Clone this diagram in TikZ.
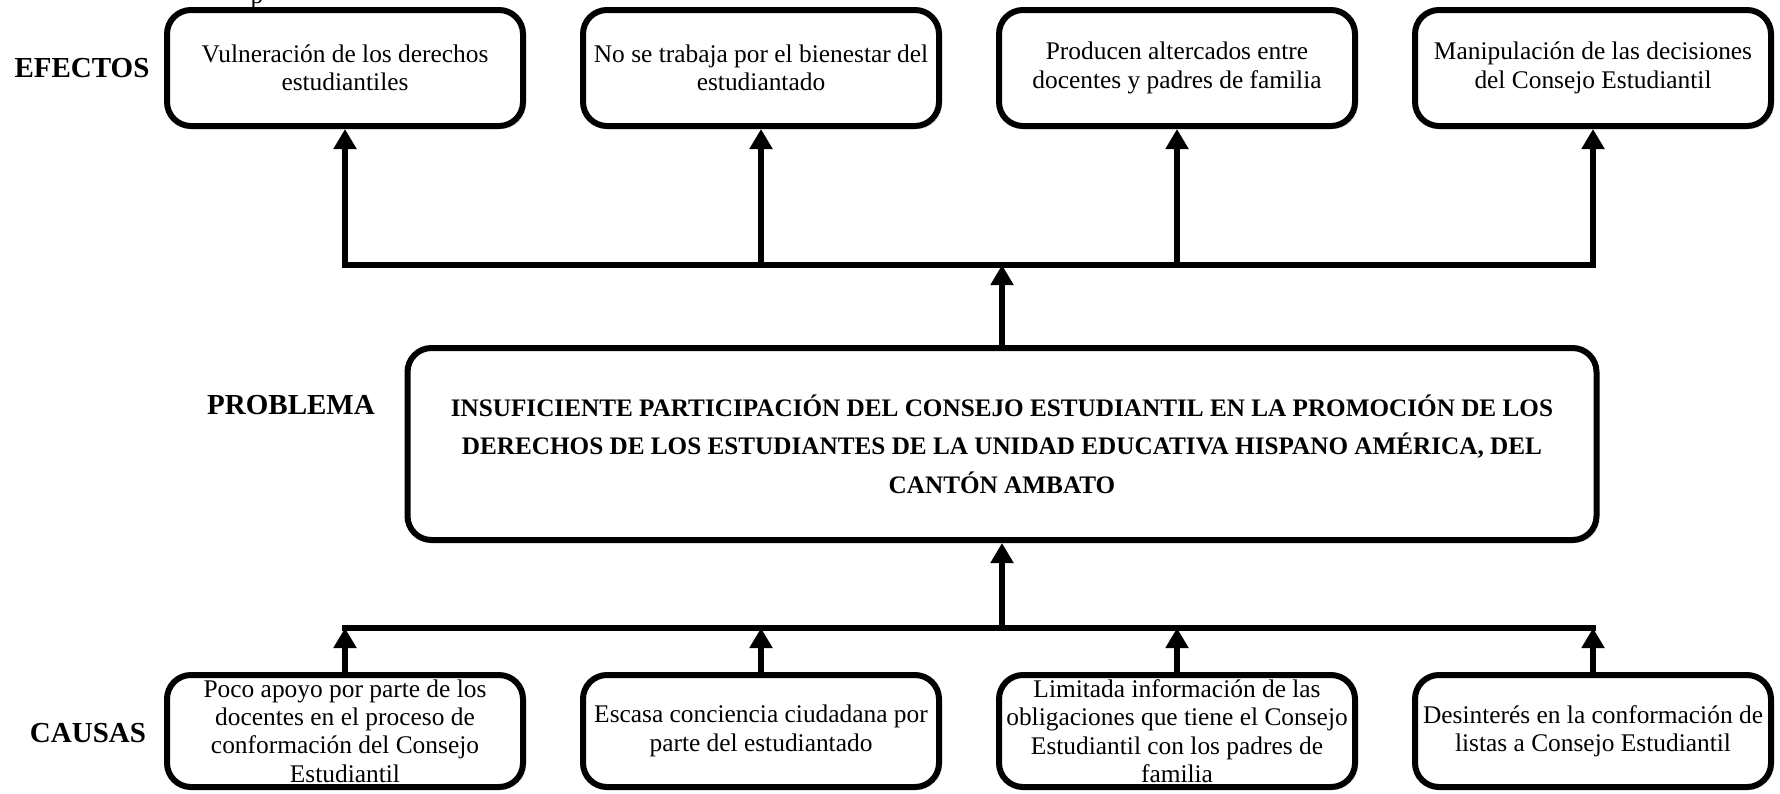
\documentclass[tikz,border=0pt]{standalone}
\usepackage{fontspec}
\setmainfont{Liberation Serif}
\usepackage{tikz}
\usetikzlibrary{arrows.meta,shadows}

\begin{document}
\begin{tikzpicture}[x=0.5pt,y=-0.5pt,
    caja/.style={draw, line width=3pt, rounded corners=12pt, fill=white,
        minimum width=178pt, inner xsep=3pt, inner ysep=0pt, align=center,
        font=\fontsize{12.7}{14.2}\selectfont,
        drop shadow={shadow xshift=1.5pt, shadow yshift=-1.5pt, opacity=0.2}},
    flecha/.style={line width=3pt, -{Triangle[length=10pt,width=11pt]}},
    barra/.style={line width=3pt, line cap=rect},
    etiqueta/.style={font=\fontsize{14.5}{17}\selectfont\bfseries}]

        \useasboundingbox (0,0) rectangle (1780,793);

        \node[anchor=base, font=\fontsize{12.7}{14.2}\selectfont] (frag) at (257,3) {p};

        % efectos
        \node[etiqueta] (efectos) at (82,68) {EFECTOS};
        \node[caja, minimum height=58pt] (e1) at (345,68) {Vulneración de los derechos\\estudiantiles};
        \node[caja, minimum height=58pt] (e2) at (761,68) {No se trabaja por el bienestar del\\estudiantado};
        \node[caja, minimum height=58pt] (e3) at (1177,68) {Producen altercados entre\\docentes y padres de familia};
        \node[caja, minimum height=58pt] (e4) at (1593,68) {Manipulación de las decisiones\\del Consejo Estudiantil};

        % problema
        \node[etiqueta] (problema) at (291,405) {PROBLEMA};
        \node[caja, minimum width=594.5pt, minimum height=96pt,
            font=\fontsize{12.6}{19.2}\selectfont\bfseries] (prob) at (1002,444)
            {INSUFICIENTE PARTICIPACIÓN DEL CONSEJO ESTUDIANTIL EN LA PROMOCIÓN DE LOS\\
             DERECHOS DE LOS ESTUDIANTES DE LA UNIDAD EDUCATIVA HISPANO AMÉRICA, DEL\\
             CANTÓN AMBATO};

        % causas
        \node[etiqueta] (causas) at (88,733) {CAUSAS};
        \node[caja, minimum height=56pt] (c1) at (345,731) {Poco apoyo por parte de los\\docentes en el proceso de\\conformación del Consejo\\Estudiantil};
        \node[caja, minimum height=56pt] (c2) at (761,731) {Escasa conciencia ciudadana por\\parte del estudiantado};
        \node[caja, minimum height=56pt] (c3) at (1177,731) {Limitada información de las\\obligaciones que tiene el Consejo\\Estudiantil con los padres de\\familia};
        \node[caja, minimum height=56pt] (c4) at (1593,731) {Desinterés en la conformación de\\listas a Consejo Estudiantil};

        \coordinate (ebus) at (1002,265);
        \coordinate (cbus) at (1002,628);

        \draw[barra] (e1.south |- ebus) -- (e4.south |- ebus);
        \foreach \i in {1,...,4}
            \draw[flecha] (e\i.south |- ebus) -- (e\i.south);
        \draw[flecha] (prob.north) -- (prob.north |- ebus);

        \draw[barra] (c1.north |- cbus) -- (c4.north |- cbus);
        \foreach \i in {1,...,4}
            \draw[flecha] (c\i.north) -- (c\i.north |- cbus);
        \draw[flecha] (prob.south |- cbus) -- (prob.south);

    \end{tikzpicture}
\end{document}
